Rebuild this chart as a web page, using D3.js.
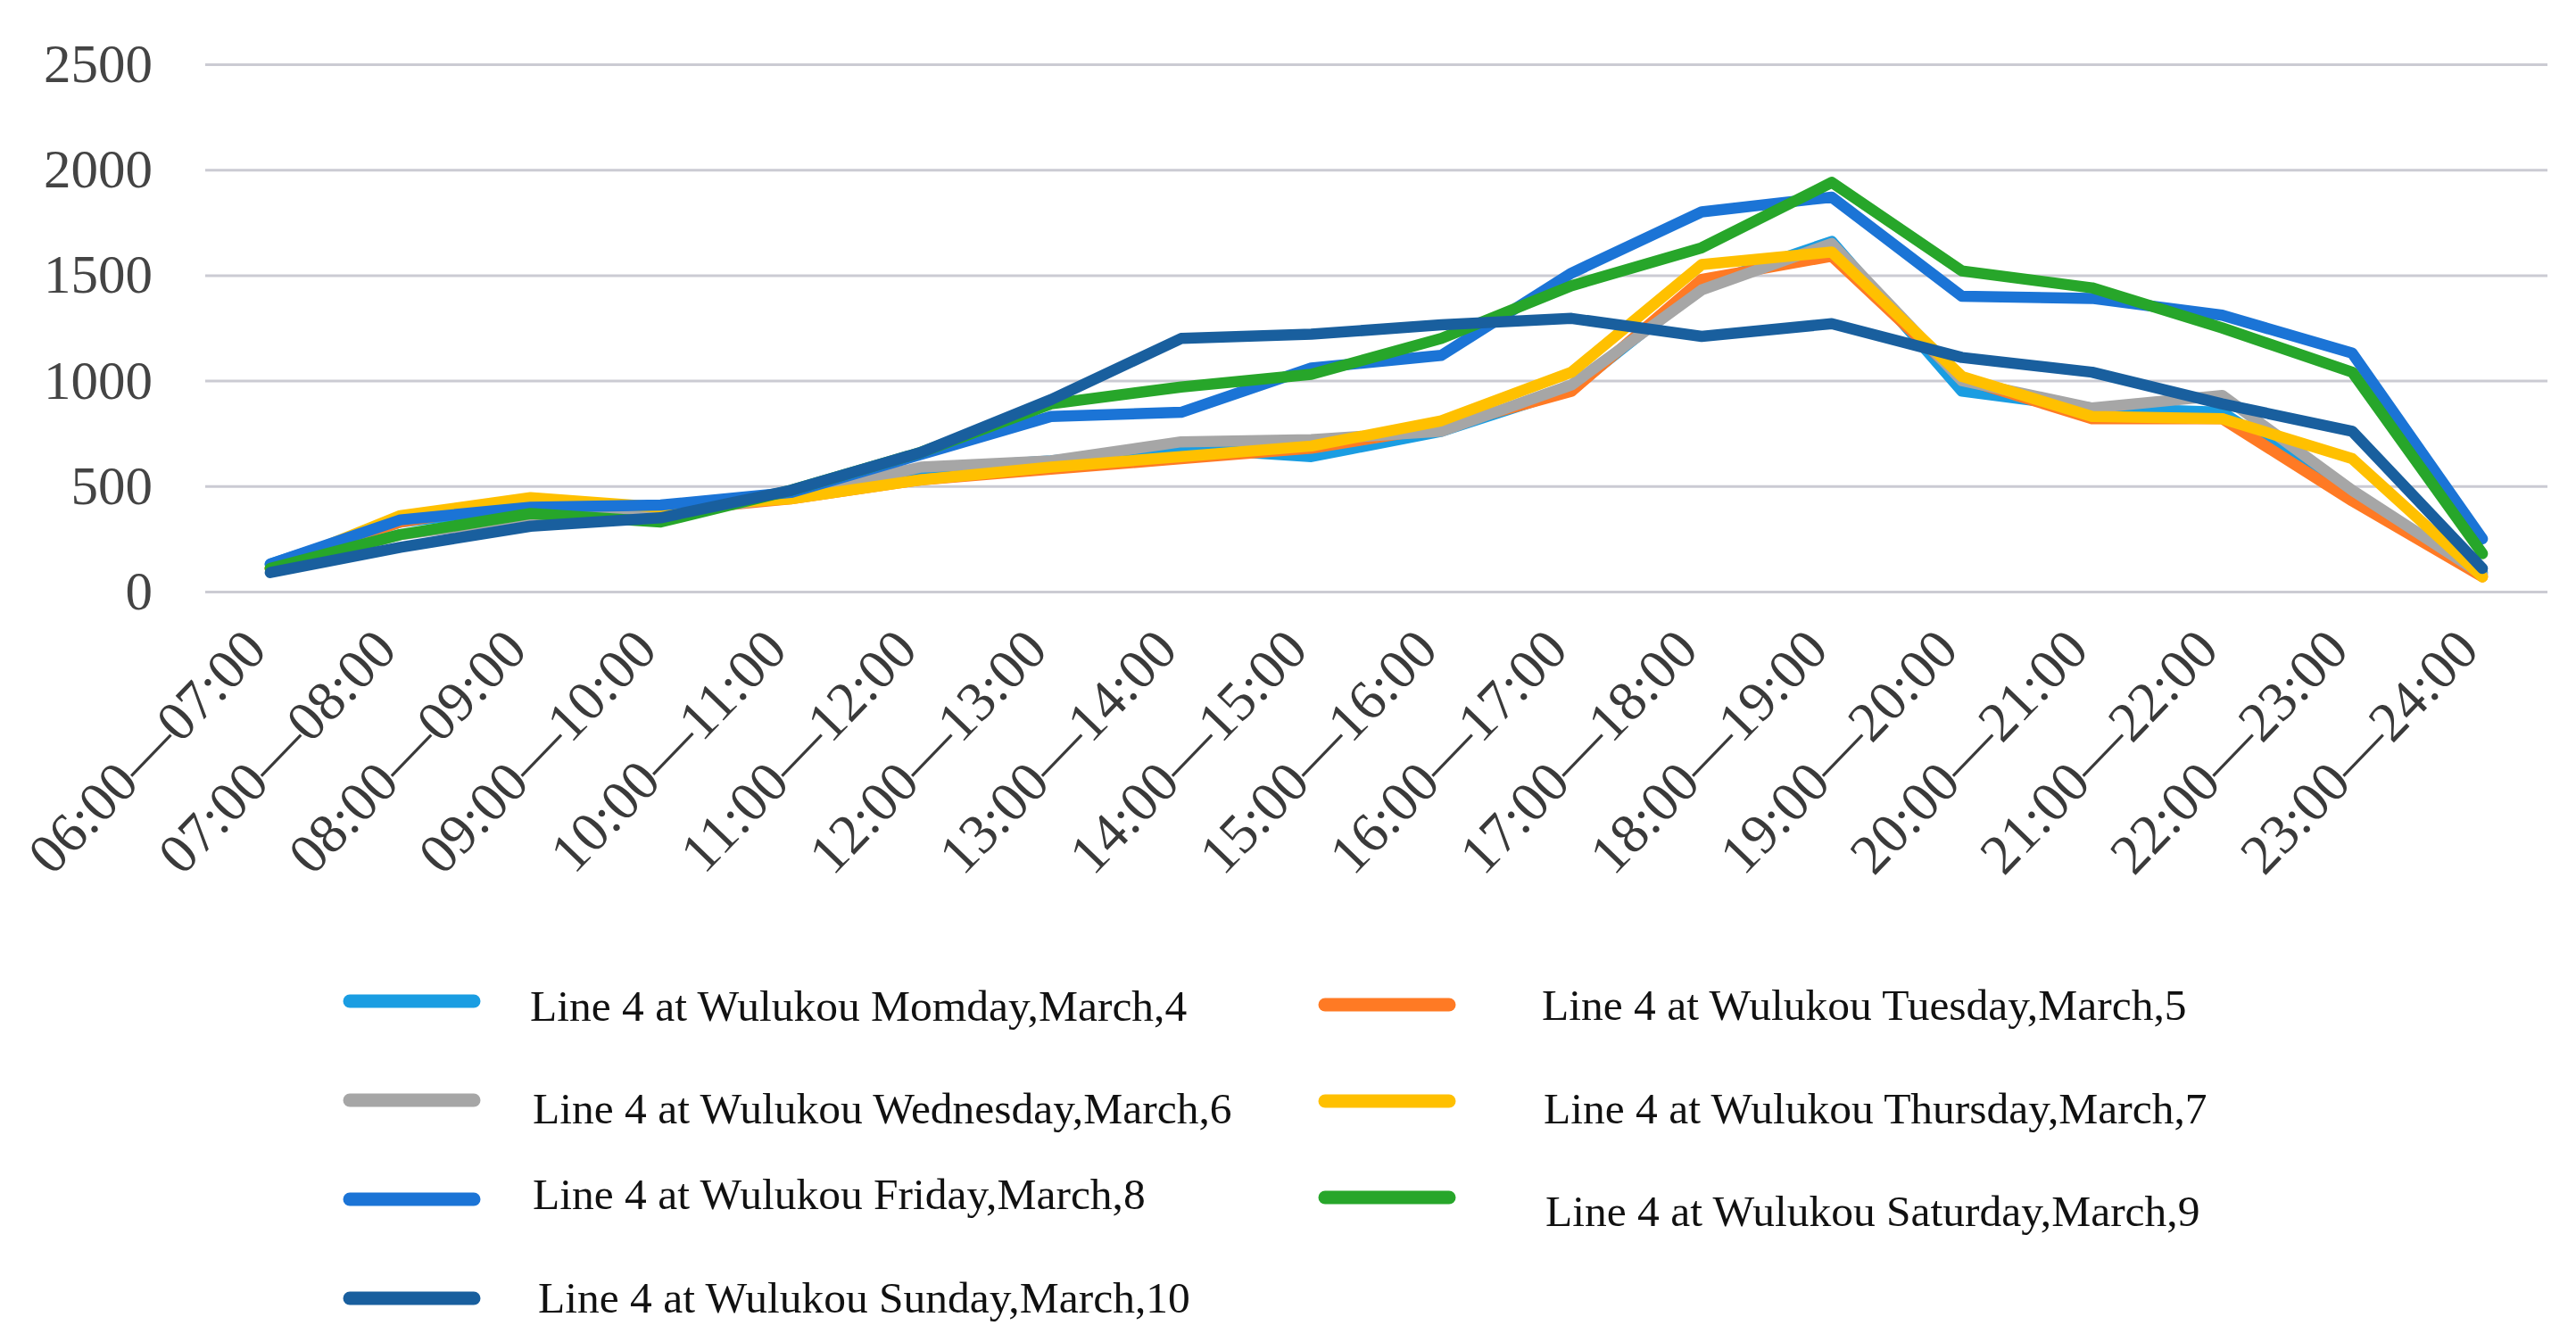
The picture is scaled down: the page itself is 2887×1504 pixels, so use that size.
<!DOCTYPE html>
<html><head><meta charset="utf-8">
<script src="https://cdn.jsdelivr.net/npm/d3@7"></script>
<style>body{margin:0;background:#fff}</style>
</head><body>
<svg id="c" width="2887" height="1504" xmlns="http://www.w3.org/2000/svg"></svg>
<script>
const categories = ["06:00—07:00","07:00—08:00","08:00—09:00","09:00—10:00","10:00—11:00","11:00—12:00","12:00—13:00","13:00—14:00","14:00—15:00","15:00—16:00","16:00—17:00","17:00—18:00","18:00—19:00","19:00—20:00","20:00—21:00","21:00—22:00","22:00—23:00","23:00—24:00"];
const yTicks = [0, 500, 1000, 1500, 2000, 2500];
const seriesNames = ["Line 4 at Wulukou Momday,March,4","Line 4 at Wulukou Tuesday,March,5","Line 4 at Wulukou Wednesday,March,6","Line 4 at Wulukou Thursday,March,7","Line 4 at Wulukou Friday,March,8","Line 4 at Wulukou Saturday,March,9","Line 4 at Wulukou Sunday,March,10"];
const monday    = [130, 330, 400, 400, 450, 580, 620, 680, 640, 760, 960, 1450, 1660, 950, 870, 850, 450, 90];
const tuesday   = [110, 330, 430, 380, 440, 530, 580, 630, 680, 780, 950, 1480, 1590, 1010, 820, 820, 430, 70];
const wednesday = [110, 270, 350, 370, 450, 590, 620, 710, 720, 760, 980, 1430, 1650, 1000, 870, 930, 480, 80];
const thursday  = [110, 360, 445, 400, 440, 530, 590, 640, 690, 810, 1040, 1550, 1610, 1020, 830, 820, 630, 70];
const friday    = [130, 340, 400, 410, 470, 650, 830, 850, 1060, 1120, 1510, 1800, 1870, 1400, 1390, 1310, 1130, 250];
const saturday  = [110, 270, 370, 330, 480, 660, 890, 970, 1030, 1200, 1450, 1630, 1940, 1520, 1440, 1250, 1040, 180];
const sunday    = [90, 210, 310, 350, 480, 660, 910, 1200, 1220, 1265, 1295, 1210, 1270, 1110, 1040, 890, 760, 110];
const seriesValues = [monday, tuesday, wednesday, thursday, friday, saturday, sunday];
const seriesColors = ["#1a9de2", "#ff7a24", "#a6a6a6", "#ffc000", "#1b74d6", "#27a62a", "#195f9e"];

const svg = d3.select("#c");
svg.append("rect").attr("width", 2887).attr("height", 1504).attr("fill", "#fff");
const plotLeft = 230, plotRight = 2855, plotTop = 72, plotBottom = 663;
const x = d3.scalePoint().domain(categories).range([plotLeft, plotRight]).padding(0.5);
const y = d3.scaleLinear().domain([0, 2500]).range([plotBottom, plotTop]);
const font = "'Liberation Serif','Times New Roman',serif";

const yAxis = svg.append("g").attr("transform", `translate(${plotLeft},0)`)
  .call(d3.axisLeft(y).tickValues(yTicks).tickSize(-(plotRight - plotLeft)).tickPadding(59).tickFormat(d3.format("d")));
yAxis.select(".domain").remove();
yAxis.selectAll(".tick line").attr("stroke", "#cbcbd3").attr("stroke-width", 3);
yAxis.selectAll(".tick text").attr("font-family", font).attr("font-size", 61).attr("fill", "#444");

const xAxis = svg.append("g").attr("transform", `translate(0,${plotBottom})`)
  .call(d3.axisBottom(x).tickSize(0).tickPadding(0));
xAxis.select(".domain").remove();
xAxis.selectAll(".tick text")
  .attr("font-family", font).attr("font-size", 63).attr("fill", "#3a3a3a")
  .attr("text-anchor", "end")
  .attr("dy", 0).attr("y", 0)
  .attr("transform", "translate(-2,68) rotate(-46)");

const line = d3.line().x((d, i) => x(categories[i])).y(d => y(d));
svg.append("g").selectAll("path").data(seriesValues).join("path")
  .attr("d", d => line(d))
  .attr("fill", "none")
  .attr("stroke", (d, i) => seriesColors[i])
  .attr("stroke-width", 12.5)
  .attr("stroke-linejoin", "round")
  .attr("stroke-linecap", "round");

// legend
const legendPos = [
  {sx: 385, sy: 1122, tx: 594, ty: 1144},
  {sx: 1478, sy: 1126, tx: 1728, ty: 1143},
  {sx: 385, sy: 1233, tx: 597, ty: 1259},
  {sx: 1478, sy: 1234, tx: 1730, ty: 1259},
  {sx: 385, sy: 1344, tx: 597, ty: 1355},
  {sx: 1478, sy: 1342, tx: 1732, ty: 1374},
  {sx: 385, sy: 1455, tx: 603, ty: 1471}
];
const lg = svg.append("g");
seriesNames.forEach((name, i) => {
  const p = legendPos[i];
  lg.append("line").attr("x1", p.sx + 7).attr("x2", p.sx + 146).attr("y1", p.sy).attr("y2", p.sy)
    .attr("stroke", seriesColors[i]).attr("stroke-width", 15).attr("stroke-linecap", "round");
  lg.append("text").attr("x", p.tx).attr("y", p.ty).text(name)
    .attr("font-family", font).attr("font-size", 49.5).attr("fill", "#111");
});
</script>
</body></html>
